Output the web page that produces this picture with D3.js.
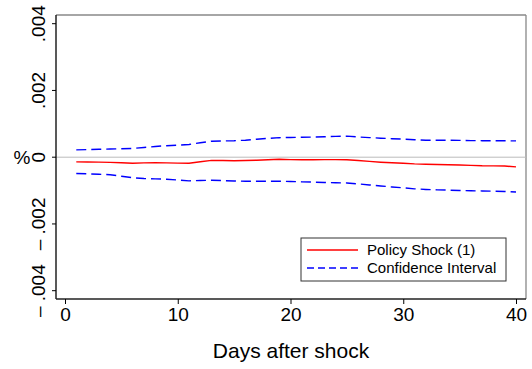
<!DOCTYPE html>
<html><head><meta charset="utf-8">
<script src="https://cdn.jsdelivr.net/npm/d3@7"></script>
<style>body{margin:0;background:#fff}svg{display:block;font-family:Arial,"Liberation Sans",sans-serif}</style>
</head><body><svg id="c" width="532" height="369"></svg>
<script>
const days = d3.range(1, 41);
const policyShock = [-0.141,-0.144,-0.147,-0.156,-0.165,-0.18,-0.171,-0.165,-0.171,-0.177,-0.18,-0.135,-0.096,-0.099,-0.105,-0.099,-0.09,-0.078,-0.06,-0.072,-0.078,-0.075,-0.072,-0.072,-0.075,-0.099,-0.126,-0.15,-0.168,-0.183,-0.201,-0.21,-0.219,-0.225,-0.234,-0.246,-0.258,-0.261,-0.264,-0.291].map(v=>v/1000);
const upperCI = [0.219,0.228,0.237,0.246,0.255,0.261,0.291,0.321,0.345,0.36,0.381,0.432,0.48,0.489,0.495,0.51,0.54,0.564,0.585,0.591,0.597,0.603,0.612,0.624,0.63,0.606,0.588,0.57,0.555,0.54,0.522,0.51,0.51,0.507,0.504,0.498,0.495,0.495,0.492,0.489].map(v=>v/1000);
const lowerCI = [-0.489,-0.498,-0.51,-0.525,-0.57,-0.615,-0.639,-0.648,-0.66,-0.684,-0.708,-0.699,-0.69,-0.702,-0.714,-0.72,-0.72,-0.72,-0.72,-0.729,-0.738,-0.747,-0.756,-0.765,-0.771,-0.801,-0.831,-0.861,-0.891,-0.918,-0.948,-0.966,-0.978,-0.987,-0.996,-1.005,-1.011,-1.02,-1.029,-1.041].map(v=>v/1000);
const xTicks = [0,10,20,30,40];
const yTicks = [-0.004,-0.002,0,0.002,0.004];
const yTickLabels = ["\u2013 .004","\u2013 .002","0",".002",".004"];
const legendLabels = ["Policy Shock (1)","Confidence Interval"];

const svg = d3.select("#c");
const L=56, R=526, T=15, B=299;
const x = d3.scaleLinear().domain([0,40]).range([65,516]);
const y = d3.scaleLinear().domain([-0.004,0.004]).range([290.7,23.7]);

// frame top/right
svg.append("line").attr("x1",L).attr("x2",R).attr("y1",T).attr("y2",T).attr("stroke","#888").attr("stroke-width",1.3);
svg.append("line").attr("x1",R).attr("x2",R).attr("y1",T).attr("y2",B).attr("stroke","#888").attr("stroke-width",1.3);

// zero line
svg.append("line").attr("x1",L).attr("x2",R).attr("y1",y(0)).attr("y2",y(0)).attr("stroke","#bbb").attr("stroke-width",1);

// axes
const xAxis = svg.append("g").attr("transform",`translate(0,${B})`)
  .call(d3.axisBottom(x).tickValues(xTicks).tickSize(5).tickPadding(4).tickFormat(d3.format("d")));
xAxis.select(".domain").attr("d",`M${L},0H${R}`).attr("stroke","#222").attr("stroke-width",1.5);
xAxis.selectAll("text").attr("font-size",19).attr("fill","#000").attr("dy","0.71em");

const yAxis = svg.append("g").attr("transform",`translate(${L},0)`)
  .call(d3.axisLeft(y).tickValues(yTicks).tickSize(4).tickFormat((d,i)=>yTickLabels[i]));
yAxis.select(".domain").attr("d",`M0,${T}V${B}`).attr("stroke","#222").attr("stroke-width",1.5);
yAxis.selectAll("text").attr("font-size",19).attr("fill","#000")
  .attr("text-anchor","middle").attr("x",0).attr("dy",0)
  .attr("transform",d=>`translate(-11,${y(d)}) rotate(-90)`).attr("y",0);
yAxis.selectAll(".tick").attr("transform",null);
yAxis.selectAll(".tick line").attr("y1",d=>y(d)).attr("y2",d=>y(d));

// y title
svg.append("text").attr("x",22).attr("y",y(0)).attr("dy","0.35em").attr("text-anchor","middle").attr("font-size",19).text("%");
// x title
svg.append("text").attr("x",(L+R)/2).attr("y",358).attr("text-anchor","middle").attr("font-size",21).text("Days after shock");

const line = d3.line().x((d,i)=>x(days[i])).y(d=>y(d));
svg.append("path").datum(upperCI).attr("d",line).attr("fill","none").attr("stroke","#0000ff").attr("stroke-width",1.4).attr("stroke-dasharray","10,5");
svg.append("path").datum(lowerCI).attr("d",line).attr("fill","none").attr("stroke","#0000ff").attr("stroke-width",1.4).attr("stroke-dasharray","10,5");
svg.append("path").datum(policyShock).attr("d",line).attr("fill","none").attr("stroke","#ff0000").attr("stroke-width",1.4);

// legend
const lg = svg.append("g");
lg.append("rect").attr("x",301).attr("y",238).attr("width",205).attr("height",43).attr("fill","#fff").attr("stroke","#333").attr("stroke-width",1);
const rows=[{c:"#ff0000",dash:null,cy:250},{c:"#0000ff",dash:"7,4",cy:268}];
rows.forEach((r,i)=>{
  lg.append("line").attr("x1",307).attr("x2",358).attr("y1",r.cy).attr("y2",r.cy).attr("stroke",r.c).attr("stroke-width",1.3).attr("stroke-dasharray",r.dash);
  lg.append("text").attr("x",367).attr("y",r.cy).attr("dy","0.35em").attr("font-size",15).text(legendLabels[i]);
});
</script></body></html>
